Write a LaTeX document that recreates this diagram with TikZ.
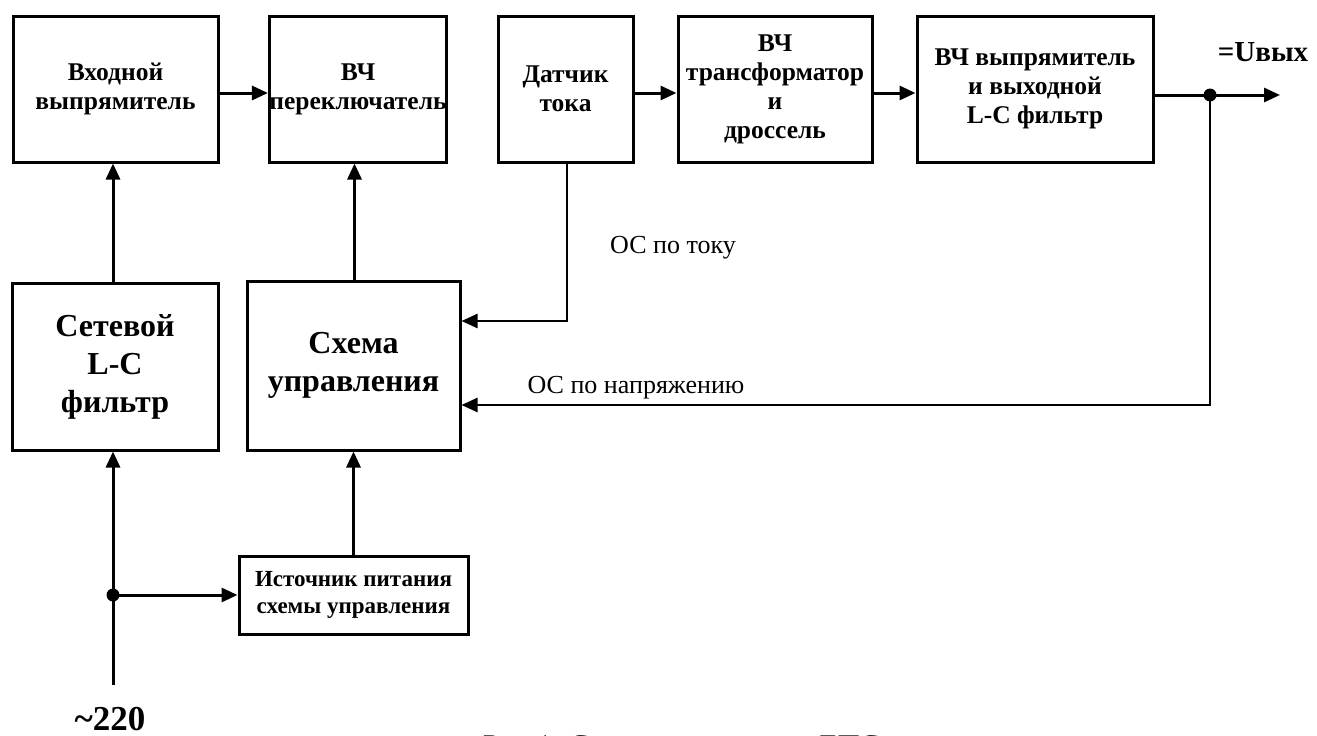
\documentclass[tikz,border=0pt]{standalone}
\usepackage{fontspec}
\setmainfont{Liberation Serif}
\usetikzlibrary{arrows.meta}
\begin{document}
\begin{tikzpicture}[x=1pt,y=-1pt,
  blk/.style={draw,line width=3pt,align=center,inner sep=0pt,font=\fontsize{25.5}{29}\selectfont\bfseries},
  bigblk/.style={blk,font=\fontsize{32}{38}\selectfont\bfseries},
  smallblk/.style={blk,font=\fontsize{23}{27}\selectfont\bfseries},
  arr/.style={line width=3pt,-{Triangle[length=16pt,width=14pt]}},
  fb/.style={line width=2.4pt,-{Triangle[length=16pt,width=14pt]}},
  lbl/.style={font=\fontsize{26}{30}\selectfont,anchor=base,inner sep=0pt},
  dot/.style={circle,fill,inner sep=0pt,minimum size=13pt}
]
\useasboundingbox (0,0) rectangle (1317,736);
\fill[white] (0,0) rectangle (1317,736);

% top row
\node[blk,minimum width=205pt,minimum height=146pt] (b1) at (115.5,89) {Входной\\выпрямитель};
\node[blk,minimum width=176pt,minimum height=146pt] (b2) at (358,89) {ВЧ\\переключатель};
\node[blk,minimum width=135pt,minimum height=146pt] (b3) at (565.5,89) {Датчик\\тока};
\node[blk,minimum width=194pt,minimum height=146pt] (b4) at (775,89) {ВЧ\\трансформатор\\и\\дроссель};
\node[blk,minimum width=236pt,minimum height=146pt] (b5) at (1035,89) {ВЧ выпрямитель\\и выходной\\L-C фильтр};

% middle row
\node[bigblk,minimum width=206pt,minimum height=167pt] (flt) at (115,366.5) {Сетевой\\L-C\\фильтр};
\node[bigblk,minimum width=213pt,minimum height=169pt] (ctl) at (353.5,365.5) {Схема\\управления};

% power supply
\node[smallblk,minimum width=229pt,minimum height=78pt] (ps) at (353.5,595) {Источник питания\\схемы управления};

% coordinates
\coordinate (outdot) at (1210,95);
\coordinate (outend) at (1280,95);
\coordinate (indot) at (113,595);
\coordinate (inbot) at (113,685);
\coordinate (fbi) at (567,321);
\coordinate (fbv) at (1210,405);

% top arrows
\draw[arr] ([yshift=-4pt]b1.east) -- ([yshift=-4pt]b2.west);
\draw[arr] ([yshift=-4pt]b3.east) -- ([yshift=-4pt]b4.west);
\draw[arr] ([yshift=-4pt]b4.east) -- ([yshift=-4pt]b5.west);
\draw[arr] (b5.east |- outdot) -- (outend);
\node[dot] (od) at (outdot) {};

% vertical arrows
\draw[arr] (flt.north -| indot) -- (b1.south -| indot);
\draw[arr] ([xshift=1pt]ctl.north) -- ([xshift=1pt]ctl.north |- b2.south);
\draw[arr] (inbot) -- (flt.south -| inbot);
\node[dot] (id) at (indot) {};
\draw[arr] (indot) -- (ps.west |- indot);
\draw[arr] (ps.north) -- (ctl.south);

% feedback
\draw[fb] (b3.south -| fbi) -- (fbi) -- (ctl.east |- fbi);
\draw[fb] (outdot) -- (fbv) -- (ctl.east |- fbv);

% labels
\node[lbl] (lti) at (673,253) {ОС по току};
\node[lbl] (ltv) at (636,393) {ОС по напряжению};
\node[font=\fontsize{29}{33}\selectfont\bfseries,anchor=base,inner sep=0pt] (uout) at (1263,61) {=Uвых};
\node[font=\fontsize{35}{40}\selectfont\bfseries,anchor=base,inner sep=0pt] (uin) at (110,730) {\textasciitilde220};
\node[font=\fontsize{30}{34}\selectfont,anchor=base west,inner sep=0pt] (cap) at (483,755) {Рис.1. Структурная схема ЕПС};
\end{tikzpicture}
\end{document}
